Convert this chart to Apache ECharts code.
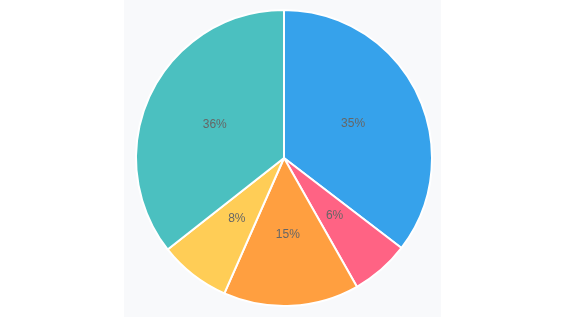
<!DOCTYPE html>
<html><head><meta charset="utf-8">
<script src="https://cdn.jsdelivr.net/npm/echarts@6/dist/echarts.min.js"></script>
<style>html,body{margin:0;padding:0;background:#fff;}#c{width:566px;height:317px;}</style>
</head><body><div id="c"></div>
<script>
const categories = ['Blue', 'Red', 'Orange', 'Yellow', 'Green'];
const values = [35.4, 6.4, 14.8, 7.8, 35.6];
const colors = ['#36a2eb', '#ff6384', '#ff9f40', '#ffcd56', '#4bc0c0'];

const chart = echarts.init(document.getElementById('c'), null, {renderer: 'canvas'});
chart.setOption({
  animation: false,
  graphic: [{type: 'rect', z: -10, shape: {x: 124, y: 0, width: 317, height: 317}, style: {fill: '#f8f9fb'}}],
  series: [{
    type: 'pie',
    center: [284, 158],
    radius: [0, 148],
    startAngle: 90,
    clockwise: true,
    avoidLabelOverlap: false,
    data: categories.map((n, i) => ({name: n, value: values[i], itemStyle: {color: colors[i]}})),
    itemStyle: {borderColor: '#fff', borderWidth: 2},
    label: {
      show: true, position: 'inside', color: '#666',
      fontFamily: 'Liberation Sans, Arial, sans-serif', fontSize: 12,
      formatter: p => Math.round(p.percent) + '%'
    },
    labelLine: {show: false},
    emphasis: {disabled: true}
  }]
});
</script></body></html>
